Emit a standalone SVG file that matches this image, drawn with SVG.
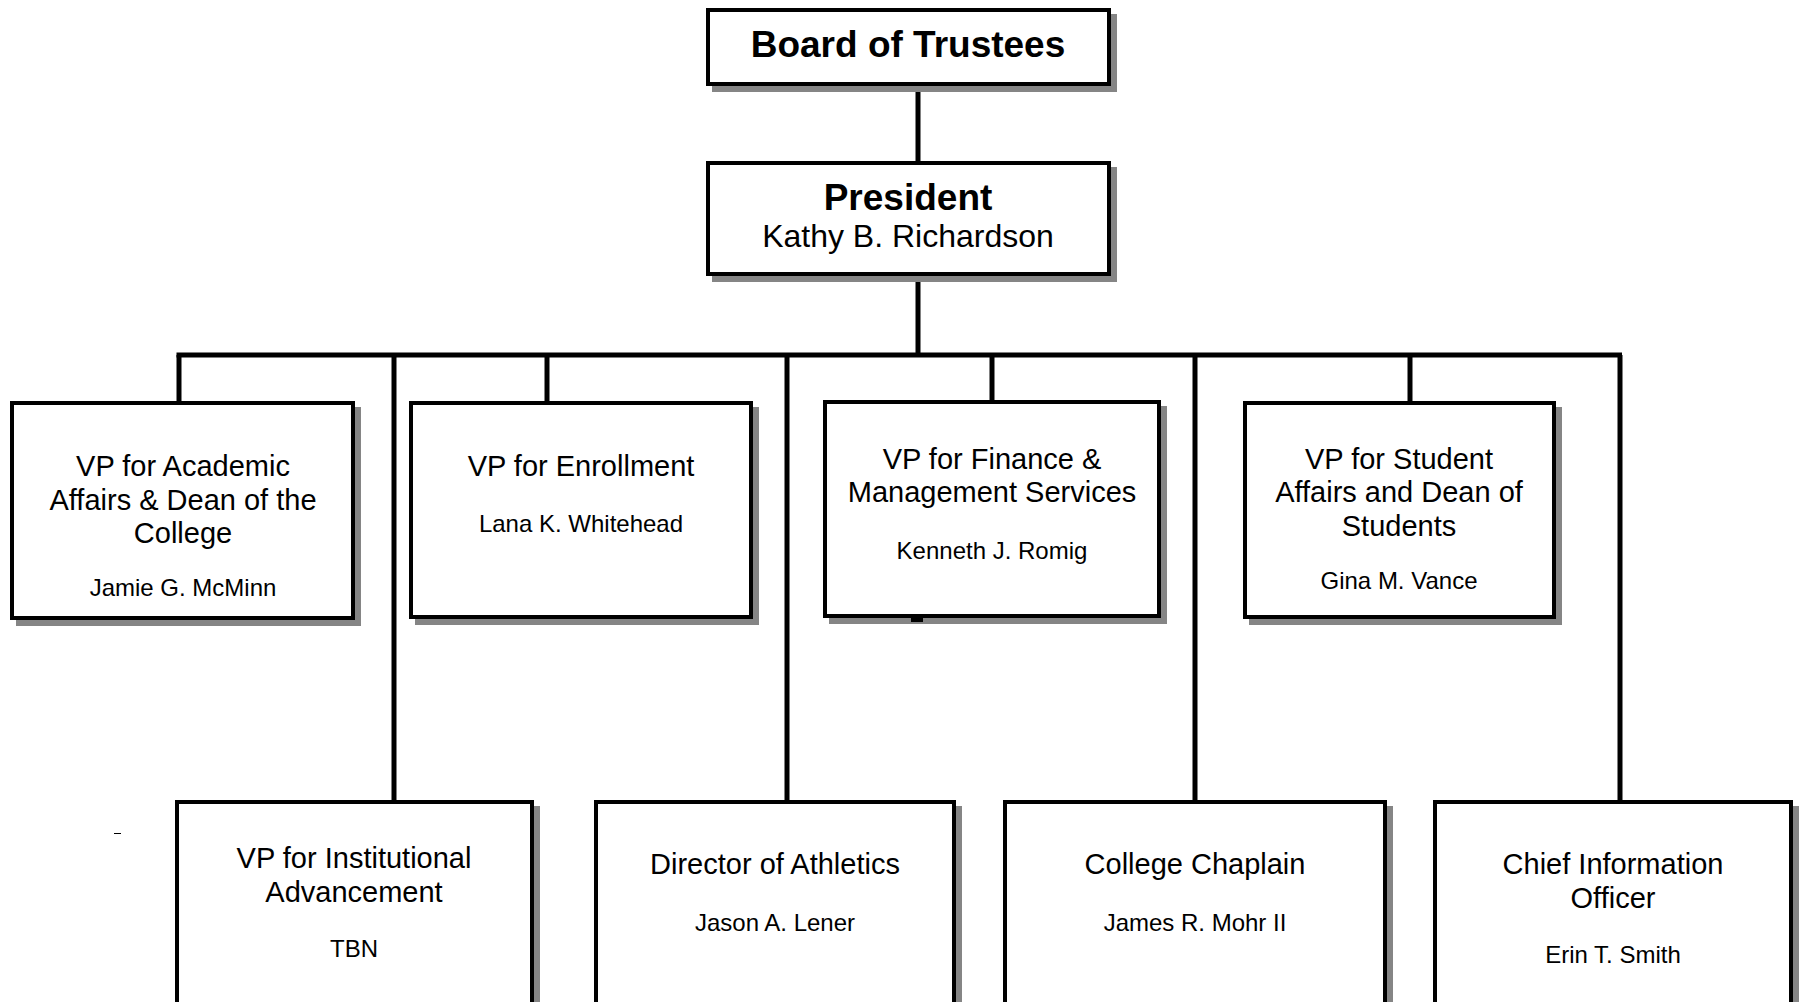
<svg xmlns="http://www.w3.org/2000/svg" width="1805" height="1002" viewBox="0 0 1805 1002">
<style>
.sh{fill:#858585}
.bx{fill:#fff;stroke:#000;stroke-width:4}
.ln{stroke:#000;stroke-width:5;fill:none}
text{font-family:"Liberation Sans",Arial,sans-serif;fill:#000;text-anchor:middle}
.tb{font-size:37px;font-weight:bold}
.tp{font-size:32px}
.t{font-size:29px}
.n{font-size:24px}
</style>
<rect width="1805" height="1002" fill="#fff"/>
<g id="connectors">
<line class="ln" x1="918" y1="85" x2="918" y2="162"/>
<line class="ln" x1="918" y1="275" x2="918" y2="355"/>
<line class="ln" x1="176.5" y1="355" x2="1622" y2="355"/>
<line class="ln" x1="179" y1="355" x2="179" y2="402"/>
<line class="ln" x1="547" y1="355" x2="547" y2="402"/>
<line class="ln" x1="992" y1="355" x2="992" y2="401"/>
<line class="ln" x1="1410" y1="355" x2="1410" y2="402"/>
<line class="ln" x1="394" y1="355" x2="394" y2="801"/>
<line class="ln" x1="787" y1="355" x2="787" y2="801"/>
<line class="ln" x1="1195" y1="355" x2="1195" y2="801"/>
<line class="ln" x1="1620" y1="355" x2="1620" y2="801"/>
</g>
<g id="board">
<rect class="sh" x="712" y="14" width="405" height="78"/>
<rect class="bx" x="708" y="10" width="401" height="74"/>
<text class="tb" x="908" y="57">Board of Trustees</text>
</g>
<g id="president">
<rect class="sh" x="712" y="167" width="405" height="115"/>
<rect class="bx" x="708" y="163" width="401" height="111"/>
<text class="tb" x="908" y="210">President</text>
<text class="tp" x="908" y="247">Kathy B. Richardson</text>
</g>
<g id="vp-academic">
<rect class="sh" x="16" y="407" width="345" height="219"/>
<rect class="bx" x="12" y="403" width="341" height="215"/>
<text class="t" x="183" y="476">VP for Academic</text>
<text class="t" x="183" y="509.5">Affairs &amp; Dean of the</text>
<text class="t" x="183" y="543">College</text>
<text class="n" x="183" y="596">Jamie G. McMinn</text>
</g>
<g id="vp-enrollment">
<rect class="sh" x="415" y="407" width="344" height="218"/>
<rect class="bx" x="411" y="403" width="340" height="214"/>
<text class="t" x="581" y="476">VP for Enrollment</text>
<text class="n" x="581" y="532">Lana K. Whitehead</text>
</g>
<g id="vp-finance">
<rect class="sh" x="829" y="406" width="338" height="218"/>
<rect class="bx" x="825" y="402" width="334" height="214"/>
<text class="t" x="992" y="468.5">VP for Finance &amp;</text>
<text class="t" x="992" y="502">Management Services</text>
<text class="n" x="992" y="559">Kenneth J. Romig</text>
<rect x="911" y="617" width="12" height="5" fill="#000"/>
</g>
<g id="vp-student">
<rect class="sh" x="1249" y="407" width="313" height="218"/>
<rect class="bx" x="1245" y="403" width="309" height="214"/>
<text class="t" x="1399" y="468.5">VP for Student</text>
<text class="t" x="1399" y="502">Affairs and Dean of</text>
<text class="t" x="1399" y="535.5">Students</text>
<text class="n" x="1399" y="589">Gina M. Vance</text>
</g>
<g id="vp-advancement">
<rect class="sh" x="181" y="806" width="359" height="220"/>
<rect class="bx" x="177" y="802" width="355" height="220"/>
<text class="t" x="354" y="868">VP for Institutional</text>
<text class="t" x="354" y="901.5">Advancement</text>
<text class="n" x="354" y="957">TBN</text>
</g>
<g id="athletics">
<rect class="sh" x="600" y="806" width="362" height="220"/>
<rect class="bx" x="596" y="802" width="358" height="220"/>
<text class="t" x="775" y="873.5">Director of Athletics</text>
<text class="n" x="775" y="930.5">Jason A. Lener</text>
</g>
<g id="chaplain">
<rect class="sh" x="1009" y="806" width="384" height="220"/>
<rect class="bx" x="1005" y="802" width="380" height="220"/>
<text class="t" x="1195" y="873.5">College Chaplain</text>
<text class="n" x="1195" y="930.5">James R. Mohr II</text>
</g>
<g id="cio">
<rect class="sh" x="1439" y="806" width="360" height="220"/>
<rect class="bx" x="1435" y="802" width="356" height="220"/>
<text class="t" x="1613" y="874">Chief Information</text>
<text class="t" x="1613" y="907.5">Officer</text>
<text class="n" x="1613" y="963">Erin T. Smith</text>
</g>
<line x1="114" y1="833.5" x2="121" y2="833.5" stroke="#000" stroke-width="1"/>
</svg>
